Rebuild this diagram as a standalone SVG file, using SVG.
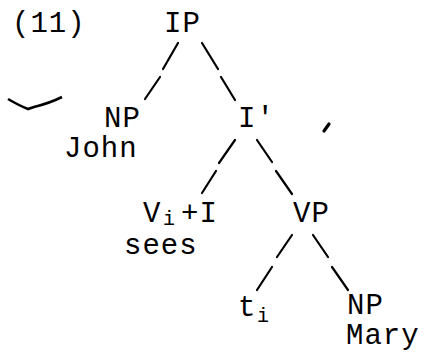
<svg xmlns="http://www.w3.org/2000/svg" width="425" height="352" viewBox="0 0 425 352">
<style>
text{font-family:"Liberation Mono","Courier New",monospace;font-size:29px;fill:#000;letter-spacing:1px;}
.sub{font-size:20px;}
.ln{stroke:#000;stroke-width:2.2;fill:none;stroke-linecap:round;}
</style>
<rect width="425" height="352" fill="#fff"/>
<g id="label"><text x="12" y="32">(11)</text></g>
<g id="mark"><path d="M8,99 Q20,106 28,109 L34,107 Q50,103 62,97" stroke="#000" stroke-width="2.6" fill="none"/><path d="M329,124 L324,131" stroke="#000" stroke-width="3.2" stroke-linecap="round"/></g>
<g id="connectors">
<path class="ln" d="M178,43 L163,69 M160,77 L145,99"/>
<path class="ln" d="M202,43 L218,69 M221,77 L235,100"/>
<path class="ln" d="M235,140 L219,163 M216,171 L202,193"/>
<path class="ln" d="M257,140 L272,162 M276,171 L292,194"/>
<path class="ln" d="M292,235 L277,257 M272,267 L257,290"/>
<path class="ln" d="M313,235 L328,257 M332,267 L348,290"/>
</g>
<g id="IP"><text x="164" y="32">IP</text></g>
<g id="NP-John"><text y="127"><tspan x="104">NP</tspan><tspan x="64" y="157">John</tspan></text></g>
<g id="Ibar"><text x="238" y="127">I'</text></g>
<g id="V-I"><text y="222"><tspan x="143">V</tspan><tspan class="sub" x="163" y="225">i</tspan><tspan x="181" y="222">+I</tspan><tspan x="124" y="254">sees</tspan></text></g>
<g id="VP"><text x="293" y="222">VP</text></g>
<g id="trace"><text y="316"><tspan x="238">t</tspan><tspan class="sub" x="257" y="322">i</tspan></text></g>
<g id="NP-Mary"><text y="314"><tspan x="347">NP</tspan><tspan x="346" y="344">Mary</tspan></text></g>
</svg>
